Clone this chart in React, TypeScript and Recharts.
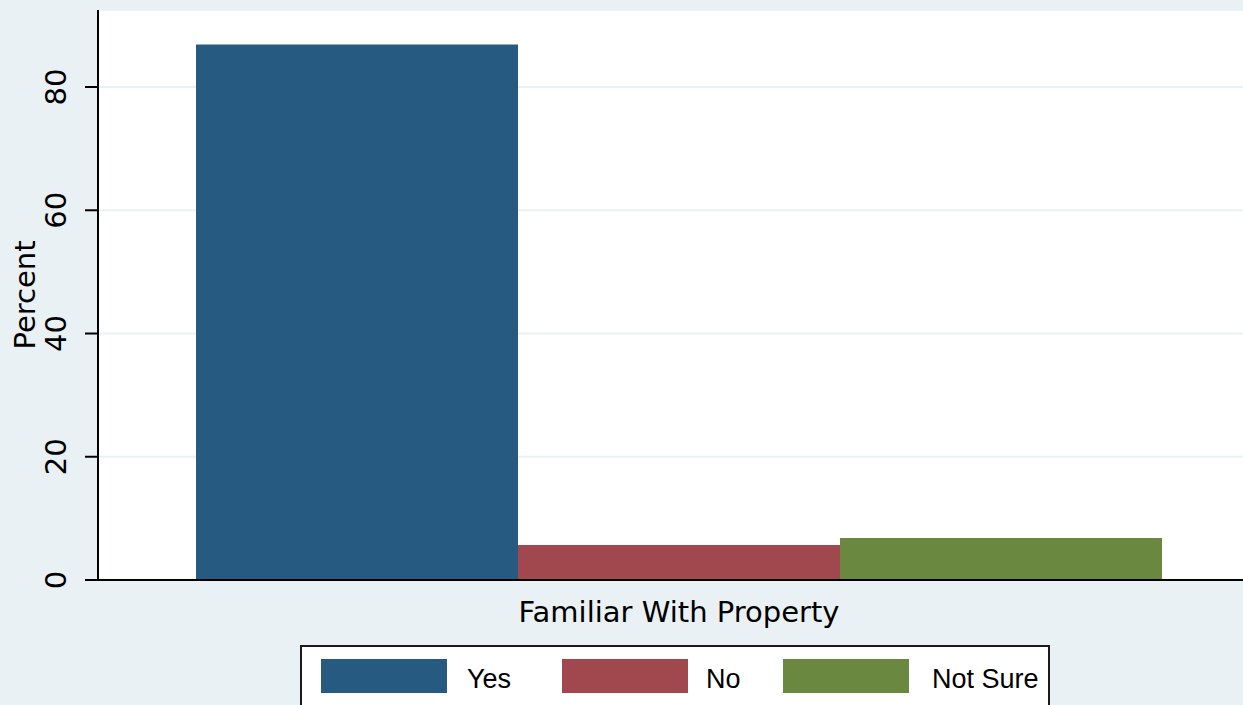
import { BarChart, Bar, XAxis, YAxis, CartesianGrid, Legend } from "recharts";

const groups = ["Familiar With Property"];
const answers = ["Yes", "No", "Not Sure"];
const keys = ["yes", "no", "notSure"];
const percents = [86.9, 5.7, 6.8];
const yTicks = [0, 20, 40, 60, 80];
const colors = ["#265A80", "#A0484E", "#6A8840"];

const data = groups.map((name) => {
  const row: Record<string, string | number> = { name };
  keys.forEach((k, i) => {
    row[k] = percents[i];
  });
  return row;
});

const font = "'DejaVu Sans', sans-serif";

function YTick(props: any) {
  const { y, payload } = props;
  return (
    <text
      x={56}
      y={y}
      transform={`rotate(-90, 56, ${y})`}
      textAnchor="middle"
      dominantBaseline="central"
      fontFamily={font}
      fontSize={29}
      fill="#000"
    >
      {payload.value}
    </text>
  );
}

function LegendBox() {
  const swatchLeft = [19, 260, 481];
  const textLeft = [165, 404, 630];
  return (
    <div
      style={{
        position: "relative",
        width: 746,
        height: 75,
        background: "#fff",
        border: "2px solid #1a1a1a",
      }}
    >
      {answers.map((a, i) => (
        <div key={a}>
          <div
            style={{
              position: "absolute",
              left: swatchLeft[i],
              top: 12,
              width: 126,
              height: 34,
              background: colors[i],
            }}
          />
          <span
            style={{
              position: "absolute",
              left: textLeft[i],
              top: 15,
              whiteSpace: "nowrap",
              fontFamily: "'Liberation Sans Narrow', 'Liberation Sans', sans-serif",
              fontSize: 27,
              lineHeight: "34px",
              color: "#000",
            }}
          >
            {a}
          </span>
        </div>
      ))}
    </div>
  );
}

export default function App() {
  return (
    <div
      style={{
        position: "absolute",
        left: 0,
        top: 0,
        width: 1243,
        height: 705,
        background: "#EAF1F4",
        overflow: "hidden",
      }}
    >
      <BarChart
        width={1260}
        height={705}
        data={data}
        margin={{ top: 10, right: 0, left: 0, bottom: 0 }}
        barGap={0}
      >
        <CartesianGrid
          vertical={false}
          stroke="#EAF1F4"
          strokeWidth={2}
          fill="#ffffff"
          fillOpacity={1}
        />
        <XAxis
          dataKey="name"
          height={125}
          tick={false}
          tickLine={false}
          axisLine={{ stroke: "#000", strokeWidth: 2 }}
          label={{
            value: "Familiar With Property",
            position: "insideTop",
            offset: 21,
            fill: "#000",
            fontSize: 29,
            fontFamily: font,
          }}
        />
        <YAxis
          width={98}
          domain={[0, 92.5]}
          ticks={yTicks}
          tick={<YTick />}
          tickSize={13}
          tickLine={{ stroke: "#000", strokeWidth: 2 }}
          axisLine={{ stroke: "#000", strokeWidth: 2 }}
          label={{
            content: (p: any) => {
              const vb = p.viewBox;
              const cy = vb.y + vb.height / 2;
              return (
                <text
                  x={25}
                  y={cy}
                  transform={`rotate(-90, 25, ${cy})`}
                  textAnchor="middle"
                  dominantBaseline="central"
                  fontFamily={font}
                  fontSize={29}
                  fill="#000"
                >
                  Percent
                </text>
              );
            },
          }}
        />
        <Legend
          layout="horizontal"
          verticalAlign="middle"
          align="center"
          wrapperStyle={{ position: "absolute", left: 300, top: 645, width: 750 }}
          content={() => <LegendBox />}
        />
        {keys.map((k, i) => (
          <Bar
            key={k}
            dataKey={k}
            name={answers[i]}
            fill={colors[i]}
            barSize={322}
            isAnimationActive={false}
          />
        ))}
      </BarChart>
    </div>
  );
}
